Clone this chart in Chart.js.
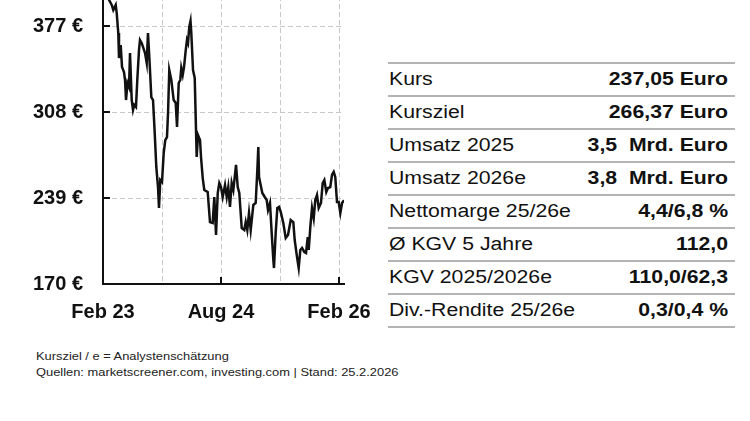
<!DOCTYPE html>
<html lang="de">
<head>
  <meta charset="UTF-8" />
  <title>Kurs und Kennzahlen</title>
  <script src="https://cdn.jsdelivr.net/npm/chart.js"></script>
  <style>
    body {
      margin: 0;
      width: 750px;
      height: 421px;
      background: #fff;
      position: relative;
      overflow: hidden;
      font-family: "Liberation Sans", Arial, sans-serif;
      color: #111;
    }

    #chartBox {
      position: absolute;
      left: 0;
      top: -70px;
    }

    .facts {
      position: absolute;
      left: 388px;
      top: 62px;
      width: 347px;
    }

    .facts .row {
      box-sizing: border-box;
      height: 33px;
      border-top: 2px solid #b4b4b4;
      display: flex;
      align-items: center;
      justify-content: space-between;
      padding: 0 7px 0 1px;
      font-size: 18px;
    }

    .facts .row:last-child {
      height: 35px;
      border-bottom: 2px solid #b4b4b4;
    }

    .facts span {
      display: inline-block;
      transform: scaleX(1.18);
      white-space: pre;
    }

    .facts .lbl { transform-origin: left center; }
    .facts .val { transform-origin: right center; font-weight: bold; }

    .note {
      position: absolute;
      left: 36px;
      top: 348px;
      font-size: 11px;
      line-height: 16px;
      color: #222;
    }

    .note div {
      transform: scaleX(1.17);
      transform-origin: left center;
      white-space: nowrap;
    }
  </style>
</head>
<body>

  <div id="chartBox">
    <canvas id="kursChart" width="380" height="404"></canvas>
  </div>

  <div class="facts" id="facts"></div>

  <div class="note">
    <div>Kursziel / e = Analystenschätzung</div>
    <div>Quellen: marketscreener.com, investing.com | Stand: 25.2.2026</div>
  </div>

  <script>
    // months since Feb 2023
    const months = [
      0, 0.46, 0.92, 1.33, 1.57, 1.94, 2.09, 2.33, 2.44, 2.70,
      2.90, 3.20, 3.36, 3.51, 3.74, 3.97, 4.12, 4.38, 4.58, 4.77,
      5.03, 5.23, 5.49, 5.64, 5.90, 6.41, 6.67, 6.86, 7.09, 7.37,
      7.63, 7.89, 8.13, 8.39, 8.54, 8.74, 9.00, 9.26, 9.50, 9.76,
      9.92, 10.11, 10.42, 10.78, 11.09, 11.29, 11.55, 11.79, 11.94, 12.16,
      12.36, 12.62, 12.81, 12.97, 13.16, 13.35, 13.47, 13.73, 13.99, 14.29,
      14.49, 14.80, 14.95, 15.21, 15.45, 15.97, 16.32, 16.73, 16.98, 17.24,
      17.50, 17.74, 18.00, 18.26, 18.61, 18.87, 19.11, 19.37, 19.63, 19.88,
      20.29, 20.55, 20.79, 21.16, 21.55, 21.77, 22.01, 22.27, 22.53, 22.93,
      23.29, 23.54, 23.69, 23.80, 24.30, 24.67, 24.97, 25.17, 25.47, 25.73,
      25.98, 26.08, 26.34, 26.59, 26.85, 27.11, 27.50, 27.87, 28.22, 28.63,
      29.03, 29.24, 29.59, 29.85, 30.10, 30.36, 30.71, 30.97, 31.23, 31.38,
      31.62, 31.88, 32.14, 32.38, 32.64, 32.90, 33.25, 33.51, 33.76, 34.06,
      34.32, 34.67, 34.93, 35.19, 35.43, 35.69, 35.95, 36.20, 36.46, 36.76
    ];

    const prices = [
      409.9, 401.9, 397.9, 393.9, 389.8, 393.9, 387.4, 371.4, 351.3, 361.7,
      344.1, 340.1, 333.7, 317.6, 331.3, 328.1, 355.3, 317.6, 309.6, 313.6,
      312.0, 333.7, 357.7, 365.8, 363.4, 355.3, 347.3, 371.4, 349.7, 320.0,
      317.6, 291.1, 263.9, 247.8, 231.0, 253.4, 251.8, 275.1, 285.5, 287.9,
      307.2, 341.7, 333.7, 317.6, 315.2, 296.0, 331.3, 333.7, 343.3, 337.7,
      344.1, 357.7, 365.8, 363.4, 376.2, 381.0, 371.4, 341.7, 335.3, 271.9,
      289.5, 285.5, 271.9, 255.0, 245.4, 243.8, 219.7, 218.9, 239.8, 209.3,
      243.0, 251.0, 247.8, 239.8, 249.4, 239.8, 247.8, 231.8, 251.0, 245.4,
      265.5, 247.8, 243.0, 214.9, 213.3, 219.7, 213.3, 226.9, 213.3, 233.4,
      235.0, 261.5, 279.9, 255.9, 243.0, 239.8, 237.4, 229.4, 235.0, 210.9,
      189.3, 182.8, 210.9, 231.0, 231.8, 227.8, 218.9, 206.9, 209.3, 221.4,
      219.7, 205.3, 191.7, 182.8, 197.3, 198.9, 195.7, 194.9, 207.7, 197.3,
      215.7, 231.0, 222.9, 237.4, 241.4, 231.0, 235.0, 251.0, 253.4, 243.8,
      247.0, 247.8, 257.5, 259.9, 255.9, 235.7, 235.7, 226.9, 235.0, 237.1
    ];

    const yTicks = [170, 239, 308, 377];
    const gridMonths = [0, 9, 18, 27, 36];
    const xLabelMonths = [0, 18, 36];
    const xLabels = ['Feb 23', 'Aug 24', 'Feb 26'];

    const rowLabels = ['Kurs', 'Kursziel', 'Umsatz 2025', 'Umsatz 2026e',
      'Nettomarge 25/26e', 'Ø KGV 5 Jahre', 'KGV 2025/2026e', 'Div.-Rendite 25/26e'];
    const rowValues = ['237,05 Euro', '266,37 Euro', '3,5  Mrd. Euro', '3,8  Mrd. Euro',
      '4,4/6,8 %', '112,0', '110,0/62,3', '0,3/0,4 %'];

    // table on the right
    const facts = document.getElementById('facts');
    rowLabels.forEach((label, i) => {
      const row = document.createElement('div');
      row.className = 'row';
      const l = document.createElement('span');
      l.className = 'lbl';
      l.textContent = label;
      const v = document.createElement('span');
      v.className = 'val';
      v.textContent = rowValues[i];
      row.appendChild(l);
      row.appendChild(v);
      facts.appendChild(row);
    });

    // small inward tick marks on the axes
    const innerTicks = {
      id: 'innerTicks',
      afterDatasetsDraw(chart) {
        const { ctx, chartArea, scales: { x, y } } = chart;
        ctx.save();
        ctx.strokeStyle = '#111';
        ctx.lineWidth = 2;
        ctx.beginPath();
        yTicks.forEach(v => {
          if (v === y.min) return;
          const py = y.getPixelForValue(v);
          ctx.moveTo(chartArea.left, py);
          ctx.lineTo(chartArea.left + 7, py);
        });
        xLabelMonths.forEach(m => {
          if (m === x.min) return;
          const px = x.getPixelForValue(m);
          ctx.moveTo(px, chartArea.bottom);
          ctx.lineTo(px, chartArea.bottom - 7);
        });
        ctx.stroke();
        ctx.restore();
      }
    };

    const tickFont = { family: '"Liberation Sans", Arial, sans-serif', size: 20, weight: 'bold' };

    new Chart(document.getElementById('kursChart'), {
      type: 'line',
      data: {
        datasets: [{
          data: months.map((m, i) => ({ x: m, y: prices[i] })),
          borderColor: '#111',
          borderWidth: 2.5,
          pointRadius: 0,
          tension: 0
        }]
      },
      options: {
        responsive: false,
        animation: false,
        devicePixelRatio: 1,
        layout: { padding: { top: 10, left: 0, right: 36, bottom: 0 } },
        plugins: {
          legend: { display: false },
          tooltip: { enabled: false }
        },
        scales: {
          x: {
            type: 'linear',
            min: 0,
            max: 36.76,
            afterBuildTicks: s => { s.ticks = gridMonths.map(v => ({ value: v })); },
            afterFit: s => { s.height = 50; s.paddingLeft = 0; s.paddingRight = 0; },
            grid: { color: '#c8c8c8', lineWidth: 1, drawTicks: false },
            border: { color: '#111', width: 2, dash: [5, 3] },
            ticks: {
              autoSkip: false,
              maxRotation: 0,
              minRotation: 0,
              padding: 16,
              color: '#111',
              font: tickFont,
              callback: v => {
                const k = xLabelMonths.indexOf(v);
                return k >= 0 ? xLabels[k] : '';
              }
            }
          },
          y: {
            min: 170,
            max: 446,
            afterBuildTicks: s => { s.ticks = yTicks.map(v => ({ value: v })); },
            afterFit: s => { s.width = 103; s.paddingTop = 0; s.paddingBottom = 0; },
            grid: { color: '#c8c8c8', lineWidth: 1, drawTicks: false },
            border: { color: '#111', width: 2, dash: [5, 3] },
            ticks: {
              padding: 20,
              color: '#111',
              font: tickFont,
              callback: v => v + ' €'
            }
          }
        }
      },
      plugins: [innerTicks]
    });
  </script>
</body>
</html>
